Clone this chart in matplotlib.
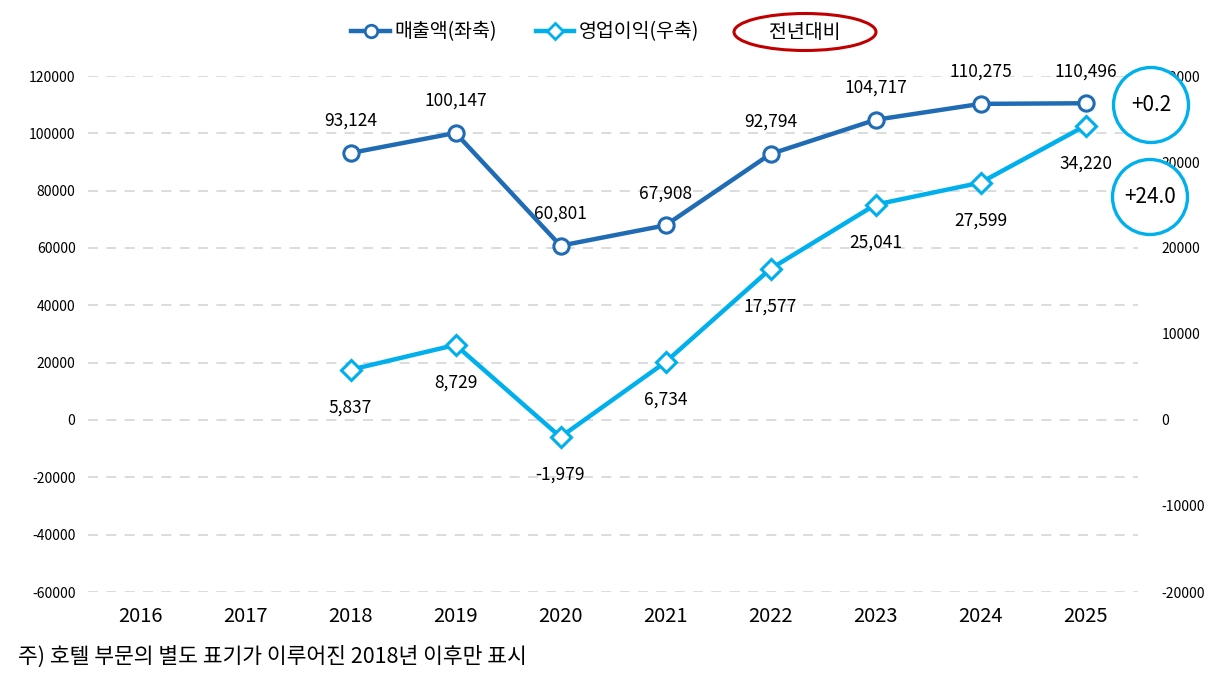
import numpy as np
import matplotlib.pyplot as plt
from matplotlib.patches import Ellipse
from matplotlib.lines import Line2D

plt.rcParams['font.family'] = ['Noto Sans CJK KR', 'DejaVu Sans']

# data
years = ['2016', '2017', '2018', '2019', '2020', '2021', '2022', '2023', '2024', '2025']
sales = [np.nan, np.nan, 93124, 100147, 60801, 67908, 92794, 104717, 110275, 110496]
op_profit = [np.nan, np.nan, 5837, 8729, -1979, 6734, 17577, 25041, 27599, 34220]
left_ticks = [120000, 100000, 80000, 60000, 40000, 20000, 0, -20000, -40000, -60000]
right_ticks = [40000, 30000, 20000, 10000, 0, -10000, -20000]
yoy_labels = ['+0.2', '+24.0']

c_sales = '#1F6CB5'
c_op = '#00B0EC'

fig = plt.figure(figsize=(12.29, 6.88), dpi=100)
ax = fig.add_axes([88 / 1229, 1 - 592 / 688, (1138 - 88) / 1229, (592 - 76) / 688])
ax2 = ax.twinx()

x = np.arange(len(years))

ax.plot(x, sales, color=c_sales, lw=3.2, marker='o', ms=11, mfc='white',
        mec=c_sales, mew=2.2, zorder=5)
ax2.plot(x, op_profit, color=c_op, lw=3.2, marker='D', ms=10, mfc='white',
         mec=c_op, mew=2.2, zorder=5)

ax.set_xlim(-0.5, len(years) - 0.5)
ax.set_ylim(-60000, 120000)
ax2.set_ylim(-20000, 40000)
ax.set_yticks(left_ticks)
ax.set_yticklabels([str(v) for v in left_ticks], fontsize=10)
ax2.set_yticks(right_ticks)
ax2.set_yticklabels([str(v) for v in right_ticks], fontsize=10)
ax.set_xticks(x)
ax.set_xticklabels(years, fontsize=14.5, fontweight='medium')
ax.tick_params(axis='x', length=0, pad=10)
ax.tick_params(axis='y', length=0, pad=9)
ax2.tick_params(axis='y', length=0, pad=17)

for a in (ax, ax2):
    for s in a.spines.values():
        s.set_visible(False)
ax.grid(axis='y', color='#D5D5D5', lw=1.2, ls=(0, (6, 5)))
ax.set_axisbelow(True)

# data labels
for i, v in enumerate(sales):
    if not np.isnan(v):
        ax.annotate(f'{v:,.0f}', (i, v), xytext=(0, 23), textcoords='offset points',
                    ha='center', va='center', fontsize=12.5)
for i, v in enumerate(op_profit):
    if not np.isnan(v):
        ax2.annotate(f'{v:,.0f}', (i, v), xytext=(0, -27), textcoords='offset points',
                     ha='center', va='center', fontsize=12.5)

# year-on-year circles
for (cx, cy), lab in zip([(1151, 105), (1150, 197)], yoy_labels):
    e = Ellipse((cx / 100, (688 - cy) / 100), 0.75, 0.75, transform=fig.dpi_scale_trans,
                facecolor='white', edgecolor=c_op, lw=2.4, zorder=20)
    fig.add_artist(e)
    fig.text(cx / 1229, 1 - cy / 688, lab, ha='center', va='center', fontsize=15, zorder=21)

# legend
handles = [
    Line2D([], [], color=c_sales, lw=3.2, marker='o', ms=9, mfc='white', mec=c_sales, mew=2),
    Line2D([], [], color=c_op, lw=3.2, marker='D', ms=8, mfc='white', mec=c_op, mew=2),
]
fig.legend(handles, ['매출액(좌축)', '영업이익(우축)'], loc='center',
           bbox_to_anchor=(525 / 1229, 1 - 32 / 688), ncol=2, frameon=False,
           fontsize=14, handlelength=2.0, handletextpad=0.2, columnspacing=2.0)
fig.add_artist(Ellipse((805 / 100, (688 - 32) / 100), 1.42, 0.37, transform=fig.dpi_scale_trans,
                       facecolor='none', edgecolor='#C00000', lw=2.2))
fig.text(805 / 1229, 1 - 32 / 688, '전년대비', ha='center', va='center', fontsize=14)

fig.text(18 / 1229, 1 - 657 / 688, '주) 호텔 부문의 별도 표기가 이루어진 2018년 이후만 표시',
         ha='left', va='center', fontsize=15.5)

fig.savefig('out.png', dpi=100)
